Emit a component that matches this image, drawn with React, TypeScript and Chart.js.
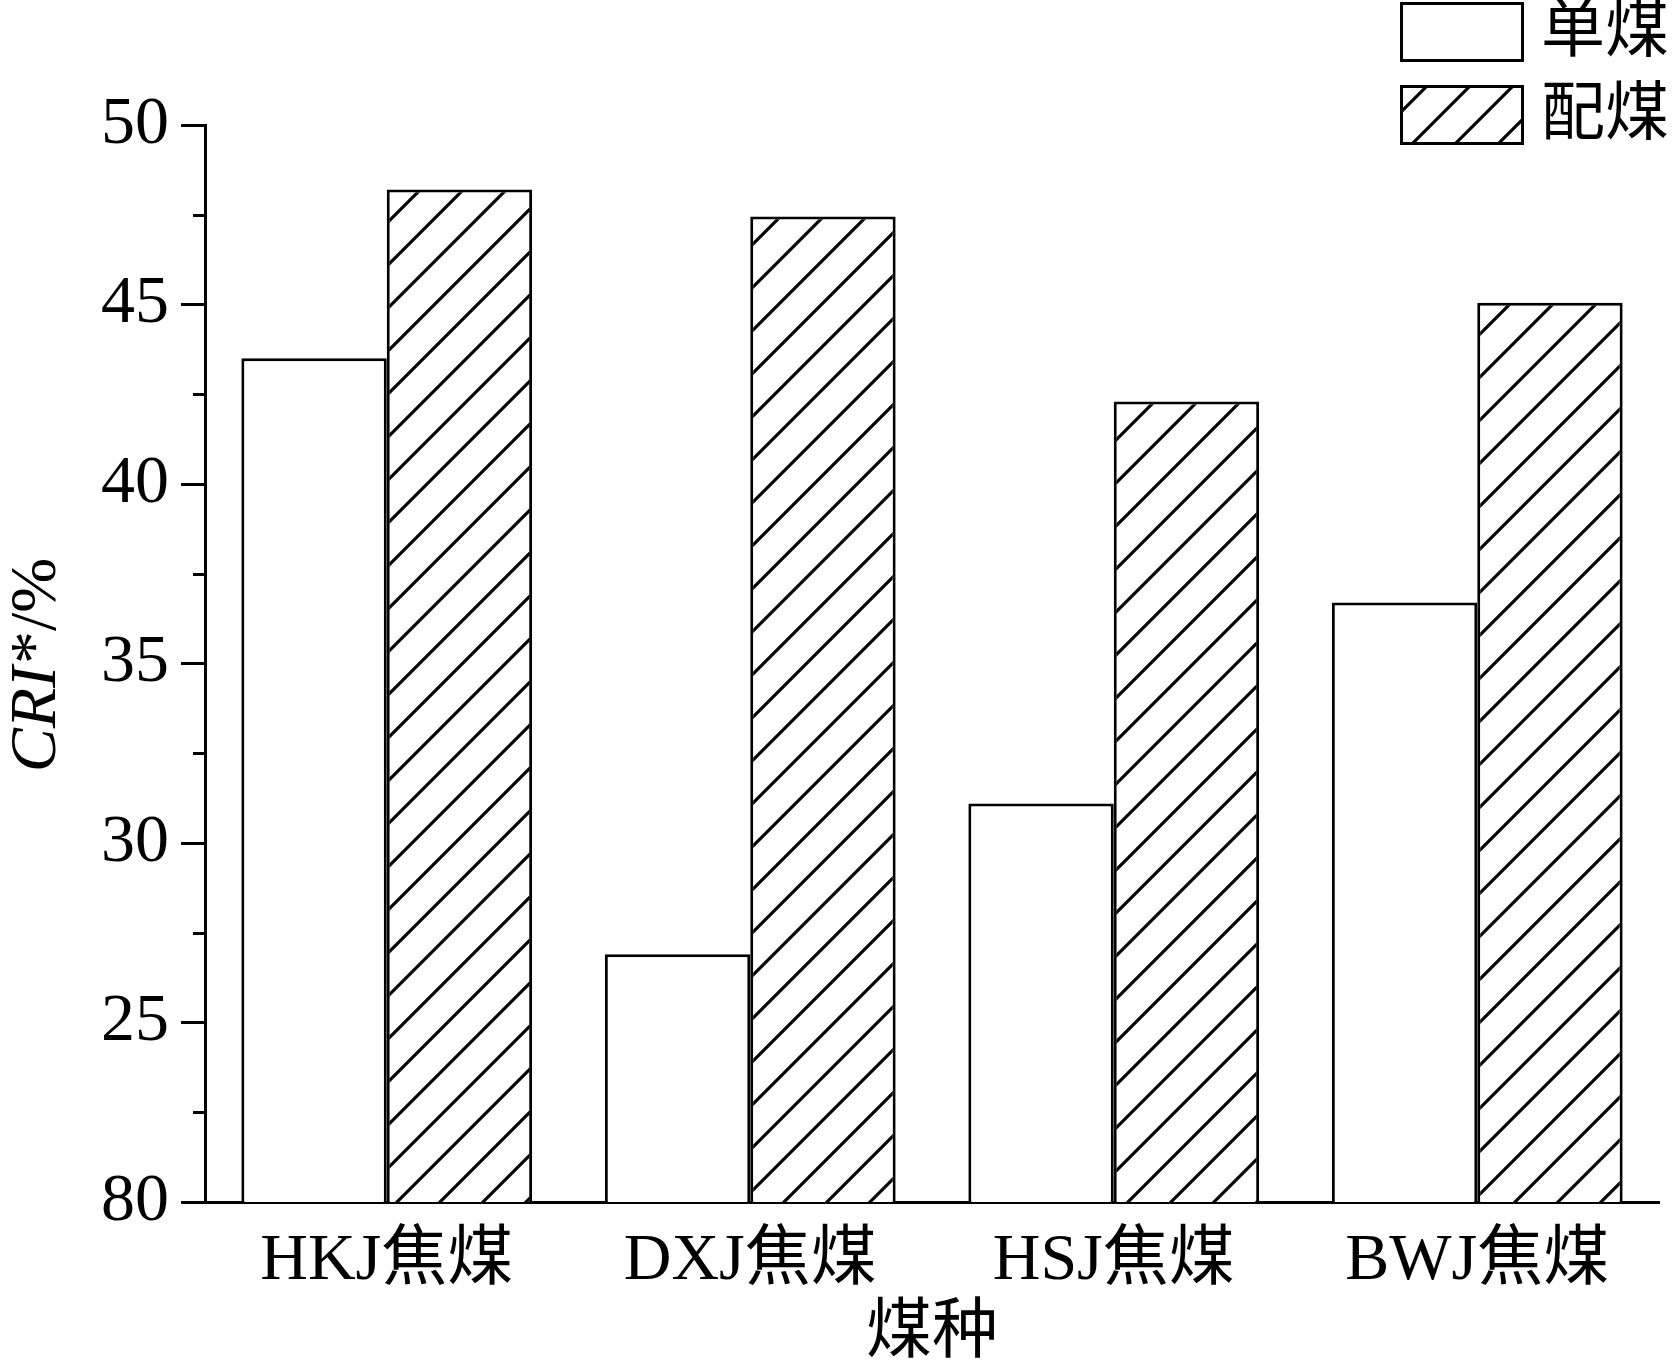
import React, { useEffect, useRef } from "react";
import { Chart, registerables } from "chart.js";

Chart.register(...registerables);

const categories = ["HKJ焦煤", "DXJ焦煤", "HSJ焦煤", "BWJ焦煤"];
const singleCoal = [43.5, 26.9, 31.1, 36.7];
const blendCoal = [48.2, 47.45, 42.3, 45.05];
const seriesNames = ["单煤", "配煤"];
const yTickLabels = ["80", "25", "30", "35", "40", "45", "50"];
const yMinorTicks = [22.5, 27.5, 32.5, 37.5, 42.5, 47.5];
const xTitle = "煤种";
const yTitleItalic = "CRI";
const yTitleRest = "*/%";

const SERIF = '"Liberation Serif", "Times New Roman", "Noto Sans CJK SC", serif';

function makeHatch(): CanvasPattern | string {
  const s = 43;
  const c = document.createElement("canvas");
  c.width = s;
  c.height = s;
  const g = c.getContext("2d");
  if (!g) return "#fff";
  g.fillStyle = "#fff";
  g.fillRect(0, 0, s, s);
  g.strokeStyle = "#000";
  g.lineWidth = 3.2;
  g.lineCap = "square";
  g.beginPath();
  g.moveTo(-2, s + 2);
  g.lineTo(s + 2, -2);
  g.moveTo(-2, 2);
  g.lineTo(2, -2);
  g.moveTo(s - 2, s + 2);
  g.lineTo(s + 2, s - 2);
  g.stroke();
  const p = g.createPattern(c, "repeat");
  if (!p) return "#fff";
  try {
    p.setTransform(new DOMMatrix().translate(8, 0));
  } catch (e) {}
  return p;
}

const decorPlugin = {
  id: "decor",
  afterDraw(chart: any) {
    const ctx: CanvasRenderingContext2D = chart.ctx;
    const y = chart.scales.y;
    ctx.save();
    // minor ticks
    ctx.strokeStyle = "#000";
    ctx.lineWidth = 3;
    for (const v of yMinorTicks) {
      const py = Math.round(y.getPixelForValue(v)) + 0.5;
      ctx.beginPath();
      ctx.moveTo(chart.chartArea.left - 12, py);
      ctx.lineTo(chart.chartArea.left, py);
      ctx.stroke();
    }
    // y title
    ctx.save();
    ctx.translate(55, 666);
    ctx.rotate(-Math.PI / 2);
    ctx.fillStyle = "#000";
    ctx.textBaseline = "alphabetic";
    const fItal = `italic 66px ${SERIF}`;
    const fNorm = `66px ${SERIF}`;
    ctx.font = fItal;
    const w1 = ctx.measureText(yTitleItalic).width;
    ctx.font = fNorm;
    const w2 = ctx.measureText(yTitleRest).width;
    const start = -(w1 + w2) / 2;
    ctx.font = fItal;
    ctx.textAlign = "left";
    ctx.fillText(yTitleItalic, start, 0);
    ctx.font = fNorm;
    ctx.fillText(yTitleRest, start + w1 + 2, 0);
    ctx.restore();
    // legend
    const boxes = [
      { x: 1400, y: 2 },
      { x: 1400, y: 85 },
    ];
    chart.data.datasets.forEach((ds: any, i: number) => {
      const b = boxes[i];
      if (!b) return;
      ctx.fillStyle = ds.backgroundColor;
      ctx.fillRect(b.x, b.y, 124, 60);
      ctx.strokeStyle = "#000";
      ctx.lineWidth = 3;
      ctx.strokeRect(b.x + 1.5, b.y + 1.5, 121, 57);
      ctx.fillStyle = "#000";
      ctx.font = `64px ${SERIF}`;
      ctx.textAlign = "left";
      ctx.textBaseline = "middle";
      ctx.fillText(ds.label, 1541, b.y + 32);
    });
    ctx.restore();
  },
};

export default function App() {
  const ref = useRef<HTMLCanvasElement>(null);
  useEffect(() => {
    const canvas = ref.current;
    if (!canvas) return;
    const hatch = makeHatch();
    const chart = new Chart(canvas, {
      type: "bar",
      data: {
        labels: categories,
        datasets: [
          {
            label: seriesNames[0],
            data: singleCoal,
            backgroundColor: "#ffffff",
            borderColor: "#000000",
            borderWidth: 3,
            borderSkipped: "bottom",
            categoryPercentage: 0.8,
            barPercentage: 1.0,
          },
          {
            label: seriesNames[1],
            data: blendCoal,
            backgroundColor: hatch as any,
            borderColor: "#000000",
            borderWidth: 3,
            borderSkipped: "bottom",
            categoryPercentage: 0.8,
            barPercentage: 1.0,
          },
        ],
      },
      options: {
        responsive: false,
        animation: false,
        devicePixelRatio: 1,
        layout: { padding: { left: 0, right: 15, top: 125, bottom: 0 } },
        plugins: {
          legend: { display: false },
          tooltip: { enabled: false },
          title: { display: false },
        },
        scales: {
          x: {
            type: "category",
            offset: true,
            grid: { display: false, drawOnChartArea: false, drawTicks: false },
            border: { display: true, color: "#000", width: 3 },
            ticks: {
              color: "#000",
              font: { family: SERIF, size: 66 },
              padding: 20,
              maxRotation: 0,
              autoSkip: false,
            },
            title: {
              display: true,
              text: xTitle,
              color: "#000",
              font: { family: SERIF, size: 66, lineHeight: 0.85 },
              padding: { top: 0, bottom: 0 },
            },
            afterFit(scale: any) {
              scale.height = 161;
            },
          },
          y: {
            type: "linear",
            min: 20,
            max: 50,
            grid: {
              display: true,
              drawOnChartArea: false,
              drawTicks: true,
              tickLength: 24,
              tickWidth: 3,
              tickColor: "#000",
            },
            border: { display: true, color: "#000", width: 3 },
            ticks: {
              stepSize: 5,
              color: "#000",
              font: { family: SERIF, size: 68 },
              padding: 12,
              autoSkip: false,
              callback: (_v: any, i: number) => yTickLabels[i],
            },
            afterFit(scale: any) {
              scale.width = 205;
            },
          },
        },
      },
      plugins: [decorPlugin],
    });
    return () => chart.destroy();
  }, []);
  return (
    <div
      style={{
        position: "absolute",
        left: 0,
        top: 0,
        width: 1674,
        height: 1363,
        background: "#ffffff",
      }}
    >
      <canvas
        ref={ref}
        width={1674}
        height={1363}
        style={{ width: 1674, height: 1363, display: "block" }}
      />
    </div>
  );
}
